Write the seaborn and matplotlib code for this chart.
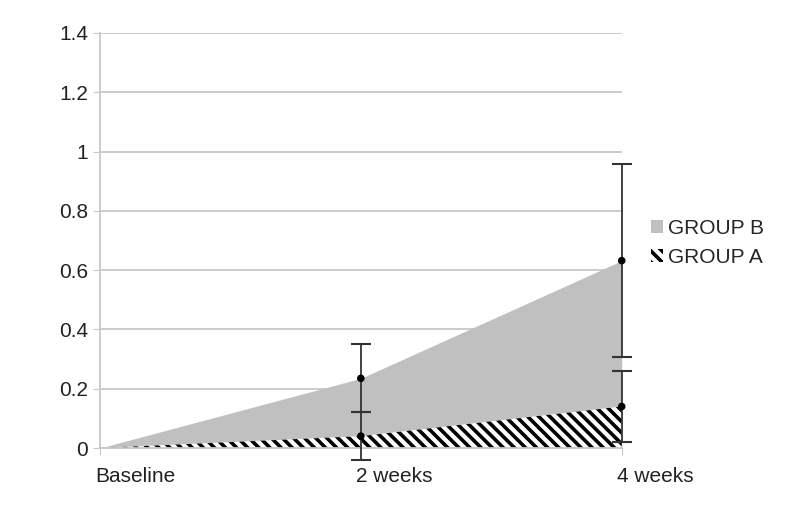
import matplotlib
matplotlib.use("Agg")
import matplotlib.pyplot as plt
import matplotlib.transforms as mtrans
import numpy as np
import pandas as pd
import seaborn as sns

# Data
timepoints = ["Baseline", "2 weeks", "4 weeks"]
group_b = [0.0, 0.235, 0.632]
group_b_err = [0.0, 0.115, 0.325]
group_a = [0.0, 0.04, 0.14]
group_a_err = [0.0, 0.08, 0.12]
yticks = [0, 0.2, 0.4, 0.6, 0.8, 1, 1.2, 1.4]

df = pd.DataFrame({"x": np.arange(len(timepoints)), "B": group_b, "A": group_a,
                   "B_err": group_b_err, "A_err": group_a_err})

sns.set_style("white")
plt.rcParams["font.family"] = ["Liberation Sans", "DejaVu Sans"]
plt.rcParams["hatch.linewidth"] = 2.6
plt.rcParams["hatch.color"] = "black"

fig = plt.figure(figsize=(7.87, 5.23), dpi=100)
ax = fig.add_axes([0.127, 0.1434, 0.663, 0.7936])

for y in yticks[1:]:
    ax.axhline(y, color="#c8c8c8", lw=1.3, zorder=0)

ax.fill_between(df["x"], 0, df["B"], color="#c0c0c0", lw=0, zorder=1, label="GROUP B")
ax.fill_between(df["x"], 0, df["A"], facecolor="white", edgecolor="black", hatch="\\\\\\",
                lw=0, zorder=2, label="GROUP A")

pts = df[df["x"] > 0]
for col in ["B", "A"]:
    ax.errorbar(pts["x"], pts[col], yerr=pts[col + "_err"], fmt="none", ecolor="#333333",
                elinewidth=1.3, capsize=7, capthick=1.5, zorder=3, clip_on=False)
    sns.scatterplot(x=pts["x"], y=pts[col], ax=ax, color="black", s=30, zorder=4,
                    edgecolor="none", clip_on=False, legend=False)

ax.set_xlim(0, 2)
ax.set_ylim(0, 1.4)
ax.set_yticks(yticks)
ax.set_yticklabels([f"{v:g}" for v in yticks])
ax.set_xticks(df["x"])
ax.set_xticklabels(timepoints, ha="left")
ax.set_xlabel("")
ax.set_ylabel("")

ax.tick_params(axis="both", labelsize=15, colors="#222222", length=5, color="#c8c8c8",
               direction="out", left=True, bottom=True)
ax.tick_params(axis="x", pad=9)
for side in ["top", "right"]:
    ax.spines[side].set_visible(False)
for side in ["left", "bottom"]:
    ax.spines[side].set_color("#c8c8c8")
    ax.spines[side].set_linewidth(1.3)

# shift x labels a little left, as in the original
offset = mtrans.ScaledTranslation(-5 / 100, 0, fig.dpi_scale_trans)
for lbl in ax.get_xticklabels():
    lbl.set_transform(lbl.get_transform() + offset)

leg = ax.legend(loc="center left", bbox_to_anchor=(1.02, 0.494), frameon=False, fontsize=15,
                handlelength=0.6, handleheight=0.6, handletextpad=0.2, labelspacing=0.5)

fig.savefig("out.png", dpi=100)
